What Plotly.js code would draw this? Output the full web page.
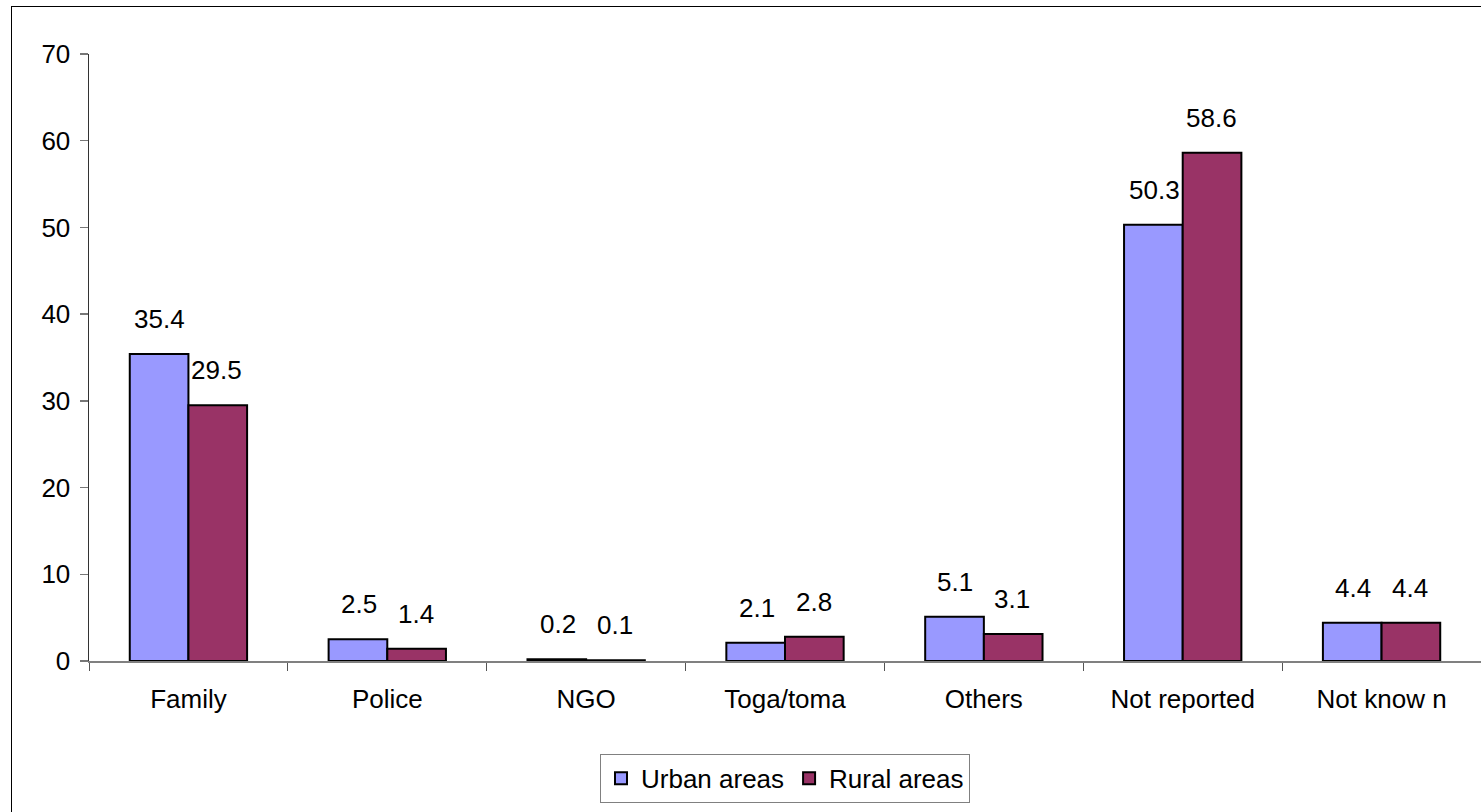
<!DOCTYPE html>
<html><head><meta charset="utf-8">
<script src="https://cdn.plot.ly/plotly-3.0.1.min.js"></script>
<style>
html,body{margin:0;padding:0;background:#fff;overflow:hidden;}
#chart{position:absolute;left:0;top:0;width:1481px;height:812px;}
#frame{position:absolute;left:11px;top:6px;width:1500px;height:900px;border:1.5px solid #000;pointer-events:none;}
</style></head>
<body>
<div id="chart"></div>
<div id="frame"></div>
<script>
var categories = ["Family","Police","NGO","Toga/toma","Others","Not reported","Not know n"];
var urban = [35.4, 2.5, 0.2, 2.1, 5.1, 50.3, 4.4];
var rural = [29.5, 1.4, 0.1, 2.8, 3.1, 58.6, 4.4];
var seriesNames = ["Urban areas","Rural areas"];
var colors = ["#9999FF","#993366"];

var font = {family:"Liberation Sans, Arial, sans-serif", size:26, color:"#000"};

var traces = [
  {type:"bar", name:seriesNames[0], x:categories, y:urban,
   marker:{color:colors[0], line:{color:"#000", width:2}}},
  {type:"bar", name:seriesNames[1], x:categories, y:rural,
   marker:{color:colors[1], line:{color:"#000", width:2}}}
];

var annotations = [];
[urban, rural].forEach(function(vals, s){
  vals.forEach(function(v, i){
    annotations.push({x:categories[i], y:v, xref:"x", yref:"y", text:v.toFixed(1),
      showarrow:false, xanchor:"center", yanchor:"bottom", xshift:(s===0?-28.5:28.5), yshift:18,
      font:font});
  });
});

var layout = {
  width:1481, height:812,
  margin:{l:89, r:0, t:54, b:151, pad:0},
  paper_bgcolor:"#fff", plot_bgcolor:"#fff",
  font:font,
  barmode:"group", bargap:0.41, bargroupgap:0,
  showlegend:true,
  legend:{orientation:"h", x:0.5, xanchor:"center", y:-0.153, yanchor:"top",
    bordercolor:"#808080", borderwidth:1, bgcolor:"#fff", font:font,
    itemwidth:30, tracegroupgap:0},
  xaxis:{type:"category", showline:true, linecolor:"#808080", linewidth:1.5,
    ticks:"outside", tickson:"boundaries", ticklen:8, tickcolor:"#555", tickwidth:1,
    showgrid:false, zeroline:false, ticklabelstandoff:14, tickfont:font, fixedrange:true},
  yaxis:{range:[0,70], dtick:10, tick0:0, showline:true, linecolor:"#333", linewidth:1.5,
    ticks:"outside", ticklen:8, tickcolor:"#777", tickwidth:1.5,
    showgrid:false, zeroline:false, ticklabelstandoff:4, tickfont:font, fixedrange:true},
  annotations:annotations
};

Plotly.newPlot("chart", traces, layout, {displayModeBar:false, staticPlot:true});
</script>
</body></html>
